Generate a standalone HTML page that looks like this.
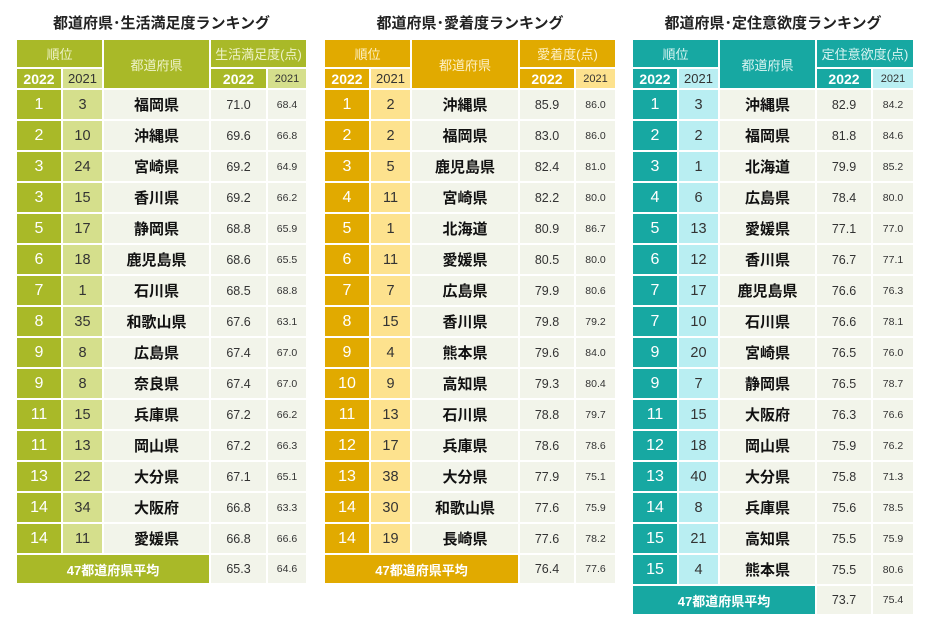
<!DOCTYPE html>
<html><head><meta charset="utf-8"><style>
body{margin:0;width:932px;height:618px;background:#fff;position:relative;overflow:hidden;font-family:"Liberation Sans","Noto Sans CJK JP",sans-serif}
.c{position:absolute;display:flex;align-items:center;justify-content:center;box-sizing:border-box;white-space:nowrap;overflow:hidden}
.t{position:absolute;font-weight:bold;font-size:15px;color:#222;text-align:center;top:12px}
</style></head><body>
<script>
const t1Names=["福岡県","沖縄県","宮崎県","香川県","静岡県","鹿児島県","石川県","和歌山県","広島県","奈良県","兵庫県","岡山県","大分県","大阪府","愛媛県"];
const t1Rank22=["1","2","3","3","5","6","7","8","9","9","11","11","13","14","14"];
const t1Rank21=["3","10","24","15","17","18","1","35","8","8","15","13","22","34","11"];
const t1Val22=[71.0,69.6,69.2,69.2,68.8,68.6,68.5,67.6,67.4,67.4,67.2,67.2,67.1,66.8,66.8];
const t1Val21=[68.4,66.8,64.9,66.2,65.9,65.5,68.8,63.1,67.0,67.0,66.2,66.3,65.1,63.3,66.6];
const t1Avg=[65.3,64.6];
const t2Names=["沖縄県","福岡県","鹿児島県","宮崎県","北海道","愛媛県","広島県","香川県","熊本県","高知県","石川県","兵庫県","大分県","和歌山県","長崎県"];
const t2Rank22=["1","2","3","4","5","6","7","8","9","10","11","12","13","14","14"];
const t2Rank21=["2","2","5","11","1","11","7","15","4","9","13","17","38","30","19"];
const t2Val22=[85.9,83.0,82.4,82.2,80.9,80.5,79.9,79.8,79.6,79.3,78.8,78.6,77.9,77.6,77.6];
const t2Val21=[86.0,86.0,81.0,80.0,86.7,80.0,80.6,79.2,84.0,80.4,79.7,78.6,75.1,75.9,78.2];
const t2Avg=[76.4,77.6];
const t3Names=["沖縄県","福岡県","北海道","広島県","愛媛県","香川県","鹿児島県","石川県","宮崎県","静岡県","大阪府","岡山県","大分県","兵庫県","高知県","熊本県"];
const t3Rank22=["1","2","3","4","5","6","7","7","9","9","11","12","13","14","15","15"];
const t3Rank21=["3","2","1","6","13","12","17","10","20","7","15","18","40","8","21","4"];
const t3Val22=[82.9,81.8,79.9,78.4,77.1,76.7,76.6,76.6,76.5,76.5,76.3,75.9,75.8,75.6,75.5,75.5];
const t3Val21=[84.2,84.6,85.2,80.0,77.0,77.1,76.3,78.1,76.0,78.7,76.6,76.2,71.3,78.5,75.9,80.6];
const t3Avg=[73.7,75.4];

function cell(x,y,w,h,txt,bg,color,fs,bold,name){
  const d=document.createElement('div');d.className='c';
  d.style.cssText=`left:${x}px;top:${y}px;width:${w}px;height:${h}px;background:${bg};color:${color};font-size:${fs}px;font-weight:${bold?'bold':'normal'}`;
  d.textContent=txt;
  
  
  document.body.appendChild(d);return d;
}
function table(o){
  const X=o.cols;
  const t=document.createElement('div');t.className='t';
  t.style.left=X[0][0]+'px';t.style.width=(X[4][0]+X[4][1]-X[0][0])+'px';
  t.textContent=o.title;
  
  
  document.body.appendChild(t);
  const hx=o.dark,lt=o.light;
  cell(X[0][0],40,X[1][0]+X[1][1]-X[0][0],27,'順位',hx,o.htext,13,false,'rank-header');
  cell(X[2][0],40,X[2][1],48,'都道府県',hx,o.htext,13,false,'prefecture-header');
  cell(X[3][0],40,X[4][0]+X[4][1]-X[3][0],27,o.score,hx,o.htext,13,false,'score-header');
  cell(X[0][0],69,X[0][1],19,'2022',hx,'#fff',14,true,'rank-2022-header');
  cell(X[1][0],69,X[1][1],19,'2021',lt,'#333',13,false,'rank-2021-header');
  cell(X[3][0],69,X[3][1],19,'2022',hx,'#fff',14,true,'score-2022-header');
  cell(X[4][0],69,X[4][1],19,'2021',lt,'#333',11,false,'score-2021-header');
  const n=o.names.length;
  for(let i=0;i<n;i++){
    const y=90+i*31,h=29;
    cell(X[0][0],y,X[0][1],h,o.r22[i],hx,'#fff',16,false,'rank-2022');
    cell(X[1][0],y,X[1][1],h,o.r21[i],lt,'#333',14.5,false,'rank-2021');
    cell(X[2][0],y,X[2][1],h,o.names[i],'#f2f4ea','#111',15,true,'prefecture-name');
    cell(X[3][0],y,X[3][1],h,o.v22[i].toFixed(1),'#f2f4ea','#333',12.5,false,'score-2022');
    cell(X[4][0],y,X[4][1],h,o.v21[i].toFixed(1),'#f2f4ea','#333',10.5,false,'score-2021');
  }
  const ay=90+n*31;
  cell(X[0][0],ay,X[2][0]+X[2][1]-X[0][0],28,'47都道府県平均',hx,'#fff',13,true,'national-average-label');
  cell(X[3][0],ay,X[3][1],28,o.avg[0].toFixed(1),'#f2f4ea','#333',12.5,false,'average-2022');
  cell(X[4][0],ay,X[4][1],28,o.avg[1].toFixed(1),'#f2f4ea','#333',10.5,false,'average-2021');
}
table({title:'都道府県･生活満足度ランキング',score:'生活満足度(点)',dark:'#a9b928',light:'#d5df8c',htext:'#eef2c8',
 cols:[[17,44],[63,39],[104,105],[211,55],[268,38]],names:t1Names,r22:t1Rank22,r21:t1Rank21,v22:t1Val22,v21:t1Val21,avg:t1Avg});
table({title:'都道府県･愛着度ランキング',score:'愛着度(点)',dark:'#e1aa00',light:'#fde28e',htext:'#fdf0c4',
 cols:[[325,44],[371,39],[412,106],[520,54],[576,39]],names:t2Names,r22:t2Rank22,r21:t2Rank21,v22:t2Val22,v21:t2Val21,avg:t2Avg});
table({title:'都道府県･定住意欲度ランキング',score:'定住意欲度(点)',dark:'#17a8a2',light:'#b9eef2',htext:'#d8f4f2',
 cols:[[633,44],[679,39],[720,95],[817,54],[873,40]],names:t3Names,r22:t3Rank22,r21:t3Rank21,v22:t3Val22,v21:t3Val21,avg:t3Avg});
</script>
</body></html>
